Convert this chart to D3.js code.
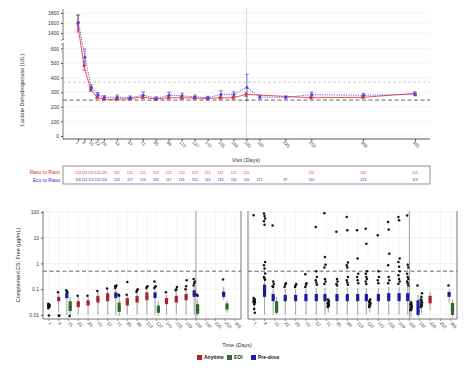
<!DOCTYPE html>
<html>
<head>
<meta charset="utf-8">
<script src="https://cdn.jsdelivr.net/npm/d3@7"></script>
<style>
body { margin: 0; background: #fff; }
text { font-family: "Liberation Sans", Arial, sans-serif; }
</style>
</head>
<body>
<script>
// ---------- top panel: LDH by visit ----------
const visits = [1, 8, 15, 22, 29, 43, 57, 71, 85, 99, 113, 127, 141, 155, 169, 183, 197, 225, 253, 309, 365];
const ravuMean = [1590, 480, 320, 265, 251, 252, 255, 268, 252, 262, 262, 260, 257, 262, 262, 285, null, null, 262, 265, 292];
const ravuErr  = [170, 30, 15, 10, 8, 8, 8, 12, 8, 10, 10, 8, 8, 10, 10, 15, null, null, 8, 8, 12];
const ecuMean  = [1610, 540, 333, 283, 265, 265, 262, 280, 258, 280, 275, 268, 262, 285, 285, 333, 267, 265, 283, 279, 285];
const ecuErr   = [150, 55, 18, 15, 12, 15, 12, 22, 10, 20, 18, 12, 10, 25, 18, 90, 12, 10, 18, 12, 10];
const ravuN = [124, 119, 122, 120, 120, 122, 120, 122, 122, 122, 120, 122, 121, 122, 122, 120, null, null, 116, 102, 101];
const ecuN  = [118, 116, 114, 116, 116, 116, 117, 116, 116, 117, 116, 116, 116, 116, 116, 116, 117, 97, 116, 113, 113];
const ldhTicksHi = [1400, 1600, 1800];
const ldhTicksLo = [0, 100, 200, 300, 400, 500, 600];
const ldhUln = 246, ldhUln15 = 369;

// ---------- bottom panels: free C5 ----------
const c5Days = ["1", "8", "15", "22", "29", "43", "57", "71", "85", "99", "113", "127", "141", "155", "169", "183", "197", "225", "253", "365"];
const c5Ticks = [0.01, 0.1, 1, 10, 100];
const c5Threshold = 0.5;
const sampleTypes = ["Anytime", "EOI", "Pre-dose"];
// box stats: [category, type, low whisker, q1, median, q3, high whisker]
const leftBoxes = [
  [0, "P", 0.017, 0.019, 0.022, 0.026, 0.028],
  [1, "A", 0.012, 0.034, 0.04, 0.05, 0.068],
  [2, "P", 0.01, 0.045, 0.055, 0.07, 0.085],
  [2, "E", 0.0095, 0.014, 0.02, 0.034, 0.05],
  [3, "A", 0.01, 0.02, 0.027, 0.034, 0.05],
  [4, "A", 0.01, 0.023, 0.03, 0.037, 0.05],
  [5, "A", 0.01, 0.03, 0.04, 0.055, 0.075],
  [6, "A", 0.01, 0.034, 0.05, 0.07, 0.095],
  [7, "P", 0.01, 0.045, 0.06, 0.075, 0.1],
  [7, "E", 0.009, 0.013, 0.02, 0.03, 0.05],
  [8, "A", 0.01, 0.023, 0.033, 0.045, 0.055],
  [9, "A", 0.01, 0.03, 0.04, 0.055, 0.075],
  [10, "A", 0.01, 0.037, 0.05, 0.075, 0.1],
  [11, "P", 0.01, 0.045, 0.06, 0.075, 0.1],
  [11, "E", 0.009, 0.012, 0.016, 0.023, 0.035],
  [12, "A", 0.01, 0.026, 0.034, 0.045, 0.06],
  [13, "A", 0.01, 0.03, 0.04, 0.055, 0.08],
  [14, "A", 0.01, 0.037, 0.05, 0.065, 0.09],
  [15, "P", 0.01, 0.05, 0.065, 0.09, 0.12],
  [15, "E", 0.009, 0.011, 0.016, 0.026, 0.04],
  [18, "P", 0.04, 0.05, 0.062, 0.08, 0.12],
  [18, "E", 0.012, 0.016, 0.022, 0.028, 0.035]
];
const leftOutliers = [
  [0, "P", [0.018, 0.02, 0.021, 0.023, 0.024, 0.025, 0.027, 0.0095]],
  [1, "A", [0.075, 0.0092, 0.0095]],
  [2, "P", [0.09, 0.08, 0.075]],
  [2, "E", [0.009]],
  [3, "A", [0.055]],
  [4, "A", [0.055]],
  [5, "A", [0.085]],
  [6, "A", [0.105]],
  [7, "P", [0.11, 0.125, 0.14, 0.13]],
  [7, "E", [0.06, 0.055]],
  [8, "A", [0.06, 0.19]],
  [9, "A", [0.08, 0.09, 0.1]],
  [10, "A", [0.11, 0.12, 0.13]],
  [11, "P", [0.11, 0.12, 0.13, 0.2]],
  [12, "A", [0.075]],
  [13, "A", [0.09, 0.1, 0.12]],
  [14, "A", [0.1, 0.13, 0.22]],
  [15, "P", [0.14, 0.17, 0.2, 0.25]],
  [15, "E", [0.06, 0.055]],
  [18, "P", [0.24]]
];
const rightBoxes = [
  [0, "P", 0.015, 0.028, 0.034, 0.042, 0.05],
  [1, "P", 0.01, 0.05, 0.085, 0.15, 0.25],
  [2, "P", 0.01, 0.034, 0.045, 0.065, 0.1],
  [2, "E", 0.01, 0.012, 0.018, 0.034, 0.05],
  [3, "P", 0.01, 0.034, 0.045, 0.06, 0.1],
  [4, "P", 0.01, 0.034, 0.045, 0.06, 0.1],
  [5, "P", 0.01, 0.034, 0.045, 0.065, 0.1],
  [6, "P", 0.01, 0.034, 0.05, 0.065, 0.11],
  [7, "P", 0.01, 0.034, 0.048, 0.065, 0.11],
  [7, "E", 0.012, 0.02, 0.025, 0.033, 0.045],
  [8, "P", 0.01, 0.034, 0.048, 0.065, 0.11],
  [9, "P", 0.01, 0.034, 0.048, 0.065, 0.11],
  [10, "P", 0.01, 0.034, 0.048, 0.065, 0.11],
  [11, "P", 0.01, 0.034, 0.048, 0.065, 0.11],
  [11, "E", 0.012, 0.02, 0.025, 0.033, 0.045],
  [12, "P", 0.01, 0.034, 0.048, 0.065, 0.11],
  [13, "P", 0.01, 0.034, 0.05, 0.07, 0.12],
  [14, "P", 0.01, 0.034, 0.05, 0.07, 0.12],
  [15, "P", 0.01, 0.034, 0.048, 0.07, 0.12],
  [15, "E", 0.008, 0.015, 0.02, 0.03, 0.04],
  [16, "P", 0.008, 0.01, 0.018, 0.037, 0.06],
  [16, "E", 0.012, 0.02, 0.028, 0.04, 0.06],
  [17, "A", 0.015, 0.028, 0.04, 0.055, 0.08],
  [19, "P", 0.03, 0.05, 0.065, 0.077, 0.1],
  [19, "E", 0.008, 0.01, 0.016, 0.029, 0.04]
];
const rightOutliers = [
  [0, "P", [75, 0.026, 0.03, 0.032, 0.036, 0.04, 0.045, 0.017, 0.012]],
  [1, "P", [87, 70, 56, 44, 32, 1.15, 0.86, 0.64, 0.41, 0.3, 0.26, 0.23]],
  [2, "P", [30, 0.2, 0.16, 0.13, 0.12]],
  [3, "P", [0.12, 0.15, 0.17]],
  [4, "P", [0.12, 0.14, 0.16]],
  [5, "P", [0.12, 0.15, 0.17, 0.38]],
  [6, "P", [26, 0.5, 0.3, 0.22, 0.18, 0.15]],
  [7, "P", [90, 1.8, 0.9, 0.7, 0.25, 0.2, 0.16]],
  [7, "E", [0.02, 0.022, 0.025, 0.028, 0.03, 0.035, 0.04]],
  [8, "P", [17, 0.25, 0.2, 0.16, 0.14]],
  [9, "P", [64, 19.5, 1.1, 0.85, 0.7, 0.3, 0.22, 0.18, 0.15]],
  [10, "P", [19.5, 1.56, 0.4, 0.3, 0.22, 0.17]],
  [11, "P", [22.6, 5.9, 0.5, 0.4, 0.3, 0.25, 0.2, 0.16]],
  [11, "E", [0.02, 0.024, 0.028, 0.032, 0.036, 0.04]],
  [12, "P", [12.5, 0.5, 0.3, 0.22, 0.17]],
  [13, "P", [41, 21, 2.4, 0.86, 0.3, 0.22, 0.17]],
  [14, "P", [64, 48, 1.56, 1.15, 0.75, 0.5, 0.35, 0.25, 0.2, 0.16]],
  [15, "P", [74, 0.9, 0.7, 0.4, 0.3, 0.25, 0.2, 0.17, 0.14]],
  [15, "E", [0.015, 0.018, 0.022, 0.026, 0.03]],
  [16, "P", [0.14]],
  [16, "E", [0.02, 0.025, 0.03, 0.04, 0.05, 0.07]],
  [19, "P", [0.14]]
];

const typeColor = { A: "#b8202c", E: "#2f6b2f", P: "#1c1ca8" };
const red = "#f03a3a", blue = "#4646d8";

const svg = d3.select("body").append("svg")
  .attr("width", 474).attr("height", 372);

// ================= TOP =================
const topG = svg.append("g");
const x = d3.scaleLinear().domain([1, 365]).range([78, 415]);
const yHi = d3.scaleLinear().domain([1300, 1850]).range([38, 10.5]);
const yLo = d3.scaleLinear().domain([0, 620]).range([136, 45.5]);
const yv = v => v > 700 ? yHi(v) : yLo(v);
const L = 63, R = 430;

// grid
topG.selectAll(".gh").data(ldhTicksHi.map(yHi).concat(ldhTicksLo.map(yLo)))
  .enter().append("line")
  .attr("x1", L).attr("x2", R).attr("y1", d => d).attr("y2", d => d)
  .style("stroke", "#ececec").style("stroke-width", 0.6);
topG.append("line").attr("x1", x(183)).attr("x2", x(183)).attr("y1", 8).attr("y2", 139)
  .style("stroke", "#cacaca").style("stroke-width", 0.7);

// reference lines
topG.append("line").attr("x1", L).attr("x2", R).attr("y1", yLo(ldhUln15)).attr("y2", yLo(ldhUln15))
  .style("stroke", "#bdbdbd").style("stroke-width", 0.8).style("stroke-dasharray", "3,2");
topG.append("line").attr("x1", L).attr("x2", R).attr("y1", yLo(ldhUln)).attr("y2", yLo(ldhUln))
  .style("stroke", "#555").style("stroke-width", 0.9).style("stroke-dasharray", "4,2.5");

// axes
const axHi = topG.append("g").attr("transform", `translate(${L},0)`)
  .call(d3.axisLeft(yHi).tickValues(ldhTicksHi).tickFormat(d3.format("d")).tickSize(2).tickPadding(2));
const axLo = topG.append("g").attr("transform", `translate(${L},0)`)
  .call(d3.axisLeft(yLo).tickValues(ldhTicksLo).tickFormat(d3.format("d")).tickSize(2).tickPadding(2));
[axHi, axLo].forEach(a => {
  a.select(".domain").remove();
  a.selectAll("text").style("font-size", "5px").style("fill", "#333");
  a.selectAll("line").style("stroke", "#555");
});
topG.append("line").attr("x1", L).attr("x2", L).attr("y1", 9).attr("y2", 40).style("stroke", "#555").style("stroke-width", 0.8);
topG.append("line").attr("x1", L).attr("x2", L).attr("y1", 44).attr("y2", 139).style("stroke", "#555").style("stroke-width", 0.8);
topG.append("path").attr("d", `M${L - 2},40.5 L${L + 1},39 M${L - 2},44.5 L${L + 1},43`)
  .style("stroke", "#555").style("stroke-width", 0.7).style("fill", "none");

const axX = topG.append("g").attr("transform", "translate(0,139)")
  .call(d3.axisBottom(x).tickValues(visits).tickFormat(d3.format("d")).tickSize(2).tickPadding(1));
axX.select(".domain").attr("d", `M${L},0H${R}`).style("stroke", "#555");
axX.selectAll("line").style("stroke", "#555");
axX.selectAll("text").style("font-size", "4.5px").style("fill", "#444")
  .attr("text-anchor", "start").attr("transform", "rotate(45)").attr("dy", "0.4em").attr("dx", "0.1em");

// titles
topG.append("text").attr("transform", "translate(24,90) rotate(-90)").attr("text-anchor", "middle")
  .style("font-size", "5.5px").style("fill", "#333").text("Lactate Dehydrogenase (U/L)");
topG.append("text").attr("x", 246).attr("y", 162).attr("text-anchor", "middle")
  .style("font-size", "5.5px").style("fill", "#333").text("Visit (Days)");

// series
function drawSeries(means, errs, color, dash, dx) {
  const pts = visits.map((d, i) => ({ d, m: means[i], e: errs[i] })).filter(p => p.m != null);
  topG.append("path").datum(pts)
    .attr("d", d3.line().x(p => x(p.d) + dx).y(p => yv(p.m)))
    .style("fill", "none").style("stroke", color).style("stroke-width", 0.9)
    .style("stroke-dasharray", dash);
  const eb = topG.selectAll(null).data(pts).enter().append("g");
  eb.append("line").attr("x1", p => x(p.d) + dx).attr("x2", p => x(p.d) + dx)
    .attr("y1", p => yv(p.m - p.e)).attr("y2", p => yv(p.m + p.e))
    .style("stroke", color).style("stroke-width", 0.7);
  [-1, 1].forEach(s => {
    eb.append("line").attr("x1", p => x(p.d) + dx - 1.8).attr("x2", p => x(p.d) + dx + 1.8)
      .attr("y1", p => yv(p.m + s * p.e)).attr("y2", p => yv(p.m + s * p.e))
      .style("stroke", color).style("stroke-width", 0.7);
  });
  eb.append("circle").attr("cx", p => x(p.d) + dx).attr("cy", p => yv(p.m)).attr("r", 1.5)
    .style("fill", color);
}
drawSeries(ravuMean, ravuErr, red, "none", -0.4);
drawSeries(ecuMean, ecuErr, blue, "1.2,1.2", 0.4);

// N table
topG.append("rect").attr("x", L).attr("y", 166).attr("width", R - L).attr("height", 18)
  .style("fill", "none").style("stroke", "#666").style("stroke-width", 0.7);
topG.append("text").attr("x", 60).attr("y", 174).attr("text-anchor", "end")
  .style("font-size", "5px").style("fill", "#e03030").text("Ravu to Ravu");
topG.append("text").attr("x", 60).attr("y", 181.5).attr("text-anchor", "end")
  .style("font-size", "5px").style("fill", "#3030c8").text("Ecu to Ravu");
topG.selectAll(null).data(visits.map((d, i) => ({ d, n: ravuN[i] })).filter(p => p.n != null))
  .enter().append("text").attr("x", p => x(p.d)).attr("y", 173.5).attr("text-anchor", "middle")
  .style("font-size", "3.6px").style("fill", "#e03030").text(p => p.n);
topG.selectAll(null).data(visits.map((d, i) => ({ d, n: ecuN[i] })).filter(p => p.n != null))
  .enter().append("text").attr("x", p => x(p.d)).attr("y", 180.5).attr("text-anchor", "middle")
  .style("font-size", "3.6px").style("fill", "#3030c8").text(p => p.n);

// ================= BOTTOM =================
const botG = svg.append("g");
const yc = d3.scaleLog().domain([0.0069, 105]).range([319, 211.5]);
const panels = [
  { x0: 43, x1: 241, boxes: leftBoxes, outs: leftOutliers },
  { x0: 248, x1: 457, boxes: rightBoxes, outs: rightOutliers }
];
const cats = d3.range(c5Days.length);
const bw = 3.2;

function dodge(boxes, c, t) {
  const here = boxes.filter(b => b[0] === c).map(b => b[1]);
  if (here.length < 2) return 0;
  return t === "P" ? -1.7 : 1.7;
}

panels.forEach((p, pi) => {
  const xc = d3.scalePoint().domain(cats).range([p.x0, p.x1]).padding(0.6);
  const g = botG.append("g");
  // grid
  g.selectAll(null).data(cats).enter().append("line")
    .attr("x1", d => xc(d)).attr("x2", d => xc(d)).attr("y1", 211).attr("y2", 319)
    .style("stroke", "#efefef").style("stroke-width", 0.6);
  g.selectAll(null).data(c5Ticks).enter().append("line")
    .attr("x1", p.x0).attr("x2", p.x1).attr("y1", d => yc(d)).attr("y2", d => yc(d))
    .style("stroke", "#e6e6e6").style("stroke-width", 0.6);
  // ref lines
  g.append("line").attr("x1", xc(15)).attr("x2", xc(15)).attr("y1", 211).attr("y2", 319)
    .style("stroke", "#8a8a8a").style("stroke-width", 0.8);
  g.append("line").attr("x1", p.x0).attr("x2", p.x1).attr("y1", yc(c5Threshold)).attr("y2", yc(c5Threshold))
    .style("stroke", "#555").style("stroke-width", 0.9).style("stroke-dasharray", "4,2.5");

  // boxes
  p.boxes.forEach(b => {
    const cx = xc(b[0]) + dodge(p.boxes, b[0], b[1]);
    g.append("line").attr("x1", cx).attr("x2", cx).attr("y1", yc(b[2])).attr("y2", yc(b[6]))
      .style("stroke", "#a8a8a8").style("stroke-width", 1.1);
    g.append("rect").attr("x", cx - bw / 2).attr("width", bw)
      .attr("y", yc(b[5])).attr("height", yc(b[3]) - yc(b[5]))
      .style("fill", typeColor[b[1]]);
    g.append("line").attr("x1", cx - bw / 2).attr("x2", cx + bw / 2).attr("y1", yc(b[4])).attr("y2", yc(b[4]))
      .style("stroke", "#222").style("stroke-width", 0.3);
  });
  // outliers
  p.outs.forEach(o => {
    const cx = xc(o[0]) + dodge(p.boxes, o[0], o[1]);
    g.selectAll(null).data(o[2]).enter().append("circle")
      .attr("cx", (v, i) => cx + ((i % 3) - 1) * 0.6)
      .attr("cy", v => yc(v)).attr("r", 1.25).style("fill", "#111");
  });

  // frame
  g.append("path").attr("d", `M${p.x0},211V319H${p.x1}V211`)
    .style("fill", "none").style("stroke", "#555").style("stroke-width", 0.8);
  // x labels
  g.selectAll(null).data(cats).enter().append("line")
    .attr("x1", d => xc(d)).attr("x2", d => xc(d)).attr("y1", 319).attr("y2", 321)
    .style("stroke", "#555").style("stroke-width", 0.6);
  g.selectAll(null).data(cats).enter().append("text")
    .attr("transform", d => `translate(${xc(d)},322.5) rotate(45)`)
    .attr("dy", "0.3em").attr("text-anchor", "start")
    .style("font-size", "4.5px").style("fill", "#444").text(d => c5Days[d]);

  if (pi === 0) {
    const ay = g.append("g").attr("transform", `translate(${p.x0},0)`)
      .call(d3.axisLeft(yc).tickValues(c5Ticks).tickFormat(d3.format("~g")).tickSize(2).tickPadding(2));
    ay.select(".domain").remove();
    ay.selectAll("line").style("stroke", "#555");
    ay.selectAll("text").style("font-size", "5px").style("fill", "#333");
  }
});

botG.append("text").attr("transform", "translate(20,265) rotate(-90)").attr("text-anchor", "middle")
  .style("font-size", "5.5px").style("fill", "#333").text("Complement C5, Free (µg/mL)");
botG.append("text").attr("x", 237).attr("y", 347).attr("text-anchor", "middle")
  .style("font-size", "5.5px").style("fill", "#333").text("Time (Days)");

// legend
const legendX = [197, 227, 251];
const lg = botG.selectAll(null).data(sampleTypes).enter().append("g")
  .attr("transform", (d, i) => `translate(${legendX[i]},355)`);
lg.append("rect").attr("width", 5).attr("height", 5)
  .style("fill", d => typeColor[d[0]]);
lg.append("text").attr("x", 7).attr("y", 4.4)
  .style("font-size", "5px").style("font-weight", "bold").style("fill", "#222").text(d => d);
</script>
</body>
</html>
